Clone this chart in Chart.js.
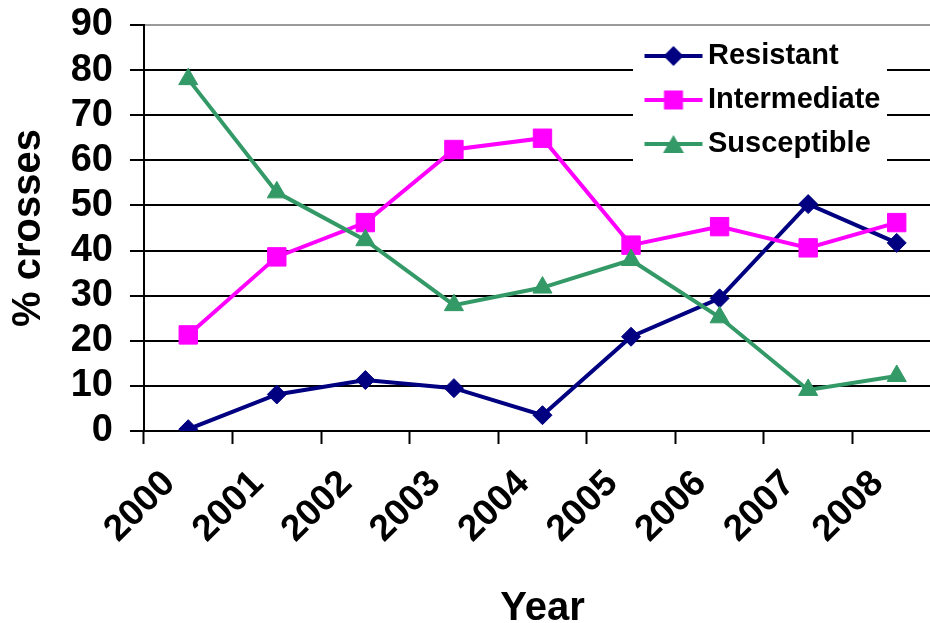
<!DOCTYPE html>
<html>
<head>
<meta charset="utf-8">
<script src="https://cdn.jsdelivr.net/npm/chart.js@4/dist/chart.umd.min.js"></script>
<style>
  html, body { margin: 0; padding: 0; background: #fff; overflow: hidden; }
  #wrap { width: 955px; height: 623px; }
</style>
</head>
<body>
<div id="wrap"><canvas id="chart" width="955" height="623"></canvas></div>
<script>
// Share of crosses by response class, per year
const years = ['2000', '2001', '2002', '2003', '2004', '2005', '2006', '2007', '2008'];
const seriesNames = ['Resistant', 'Intermediate', 'Susceptible'];
const resistant    = [0.4, 8.1, 11.3, 9.5, 3.5, 20.9, 29.4, 50.3, 41.7];
const intermediate = [21.3, 38.6, 46.2, 62.4, 64.9, 41.2, 45.3, 40.6, 46.2];
const susceptible  = [78.0, 52.9, 42.3, 27.9, 31.8, 37.9, 25.2, 9.1, 12.2];
const yTicks = [0, 10, 20, 30, 40, 50, 60, 70, 80, 90];

const FONT = '"Liberation Sans", Arial, Helvetica, sans-serif';
const NAVY = '#000080', MAGENTA = '#FF00FF', GREEN = '#339966';

// Legend glyph: a short line with the series marker in the middle
function legendGlyph(color, shape) {
  const c = document.createElement('canvas');
  c.width = 60; c.height = 24;
  const g = c.getContext('2d');
  g.strokeStyle = color; g.lineWidth = 4;
  g.beginPath(); g.moveTo(1, 12); g.lineTo(59, 12); g.stroke();
  g.fillStyle = color;
  g.beginPath();
  if (shape === 'diamond') {
    g.moveTo(30, 2); g.lineTo(40, 12); g.lineTo(30, 22); g.lineTo(20, 12);
  } else if (shape === 'square') {
    g.rect(20.5, 2.5, 19, 19);
  } else {
    g.moveTo(30, 3); g.lineTo(40.5, 21); g.lineTo(19.5, 21);
  }
  g.closePath(); g.fill();
  return c;
}
const glyphs = [legendGlyph(NAVY, 'diamond'), legendGlyph(MAGENTA, 'square'), legendGlyph(GREEN, 'triangle')];

// Place the legend inside the plot, top right, on a white panel
const legendPanel = {
  id: 'legendPanel',
  afterLayout(chart) {
    const lg = chart.legend;
    if (!lg) return;
    lg.left = 638.5; lg.top = 26.5; lg.right = 900; lg.bottom = 200;
    lg.width = lg.right - lg.left; lg.height = lg.bottom - lg.top;
    if (!lg._panel) {
      const draw = lg.draw;
      lg.draw = function () {
        const c = this.ctx;
        c.save(); c.fillStyle = '#ffffff'; c.fillRect(633, 30, 254, 138); c.restore();
        draw.apply(this, arguments);
      };
      lg._panel = true;
    }
  }
};

new Chart(document.getElementById('chart'), {
  type: 'line',
  data: {
    labels: years,
    datasets: [
      { label: seriesNames[0], data: resistant, order: 3,
        borderColor: NAVY, backgroundColor: NAVY, borderWidth: 4,
        pointStyle: 'rectRot', pointRadius: 9.5, pointBorderWidth: 1,
        pointBackgroundColor: NAVY, pointBorderColor: NAVY },
      { label: seriesNames[1], data: intermediate, order: 2,
        borderColor: MAGENTA, backgroundColor: MAGENTA, borderWidth: 4,
        pointStyle: 'rect', pointRadius: 13, pointBorderWidth: 1,
        pointBackgroundColor: MAGENTA, pointBorderColor: MAGENTA },
      { label: seriesNames[2], data: susceptible, order: 1,
        borderColor: GREEN, backgroundColor: GREEN, borderWidth: 4,
        pointStyle: 'triangle', pointRadius: 11, pointBorderWidth: 1,
        pointBackgroundColor: GREEN, pointBorderColor: GREEN }
    ]
  },
  options: {
    responsive: false,
    animation: false,
    devicePixelRatio: 1,
    layout: { padding: { top: 25, right: 4, bottom: 0, left: 0 } },
    elements: { line: { tension: 0 } },
    plugins: {
      tooltip: { enabled: false },
      legend: {
        position: 'chartArea',
        align: 'start',
        labels: {
          usePointStyle: true,
          pointStyleWidth: 40,
          padding: 15,
          color: '#000',
          font: { family: FONT, size: 29, weight: 'bold' },
          generateLabels: () => seriesNames.map((name, i) => ({
            text: name, datasetIndex: i, hidden: false,
            pointStyle: glyphs[i], fontColor: '#000',
            fillStyle: '#000', strokeStyle: '#000', lineWidth: 0
          }))
        }
      }
    },
    scales: {
      x: {
        type: 'category',
        offset: true,
        border: { display: true, color: '#000', width: 2 },
        grid: { display: true, drawOnChartArea: false, drawTicks: true, offset: true,
                tickLength: 13, tickColor: '#000', tickWidth: 2, color: '#000' },
        ticks: {
          autoSkip: false, maxRotation: 45, minRotation: 45,
          padding: 18, labelOffset: -19, color: '#000',
          font: { family: FONT, size: 37, weight: 'bold' }
        },
        title: {
          display: true, text: 'Year', color: '#000',
          font: { family: FONT, size: 40, weight: 'bold', lineHeight: 1 },
          padding: { top: 19.4, bottom: -6 }
        }
      },
      y: {
        min: 0, max: 90,
        afterBuildTicks: (scale) => { scale.ticks = yTicks.map(v => ({ value: v })); },
        border: { display: true, color: '#000', width: 2 },
        grid: {
          color: (ctx) => (ctx.tick && ctx.tick.value === 90 ? '#9a9a9a' : '#000'),
          lineWidth: 2, drawTicks: true, tickLength: 14, tickColor: '#000', tickWidth: 2
        },
        ticks: {
          autoSkip: false, padding: 17, color: '#000',
          font: { family: FONT, size: 38, weight: 'bold', lineHeight: 0.4 }
        },
        title: {
          display: true, text: '% crosses', color: '#000',
          font: { family: FONT, size: 40, weight: 'bold', lineHeight: 1 },
          padding: { top: 9, bottom: 4.7 }
        }
      }
    }
  },
  plugins: [legendPanel]
});
</script>
</body>
</html>
